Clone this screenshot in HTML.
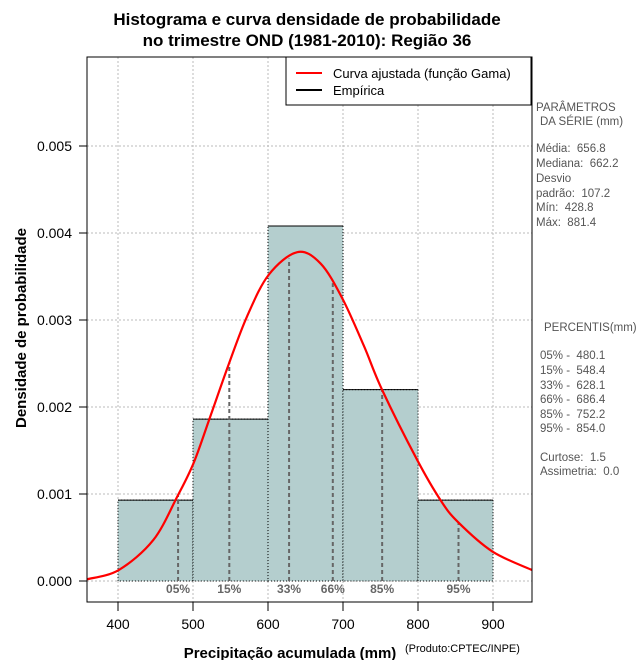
<!DOCTYPE html>
<html><head><meta charset="utf-8"><style>
body{margin:0;background:#fff}
svg text{font-family:"Liberation Sans",sans-serif;white-space:pre}
</style></head><body>
<svg id="svg" width="640" height="660" xmlns="http://www.w3.org/2000/svg">
<g id="grid"></g>
<g id="bars"></g>
<g id="pct"></g>
<path id="curve" fill="none" stroke="#f00" stroke-width="2.2"/>
<rect x="87" y="57" width="445" height="545" fill="none" stroke="#000"/>
<g id="axes"></g>
<text x="307" y="25" text-anchor="middle" font-size="17" font-weight="bold">Histograma e curva densidade de probabilidade</text>
<text x="307" y="46" text-anchor="middle" font-size="17" font-weight="bold">no trimestre OND (1981-2010): Região 36</text>
<text transform="translate(26,328) rotate(-90)" text-anchor="middle" font-size="15" font-weight="bold">Densidade de probabilidade</text>
<text x="290" y="658" text-anchor="middle" font-size="15" font-weight="bold">Precipitação acumulada (mm)</text>
<text x="405" y="652" font-size="11">(Produto:CPTEC/INPE)</text>
<g>
<rect x="286" y="57" width="245" height="48" fill="#fff" stroke="#000"/>
<line x1="296" y1="73" x2="322" y2="73" stroke="#f00" stroke-width="2"/>
<line x1="296" y1="90" x2="322" y2="90" stroke="#000" stroke-width="2"/>
<text x="333" y="78" font-size="13">Curva ajustada (função Gama)</text>
<text x="333" y="95" font-size="13">Empírica</text>
</g>
<g font-size="11.5" fill="#555">
<text x="536" y="111">PARÂMETROS</text><text x="540" y="125">DA SÉRIE (mm)</text>
<text x="536" y="152">Média:  656.8</text><text x="536" y="167">Mediana:  662.2</text>
<text x="536" y="182">Desvio</text><text x="536" y="197">padrão:  107.2</text>
<text x="536" y="211">Mín:  428.8</text><text x="536" y="226">Máx:  881.4</text>
<text x="544" y="331">PERCENTIS(mm)</text>
<text x="540" y="359">05% -  480.1</text><text x="540" y="374">15% -  548.4</text>
<text x="540" y="389">33% -  628.1</text><text x="540" y="403">66% -  686.4</text>
<text x="540" y="418">85% -  752.2</text><text x="540" y="432">95% -  854.0</text>
<text x="540" y="461">Curtose:  1.5</text><text x="540" y="475">Assimetria:  0.0</text>
</g>
</svg>
<script>
var xTicks=[400,500,600,700,800,900];
var yTicks=[0,0.001,0.002,0.003,0.004,0.005];
var yTickLabels=["0.000","0.001","0.002","0.003","0.004","0.005"];
var binStarts=[400,500,600,700,800];
var binDensity=[0.00093,0.00186,0.00408,0.0022,0.00093];
var curveX=[359,401,447,479,501,523,548,572,601,639,670,699,728,752,799,830,853,899,952];
var curveY=[0.00002,0.000126,0.00047,0.00097,0.00136,0.00189,0.0025,0.00304,0.00352,0.00378,0.00365,0.00325,0.0027,0.0022,0.00139,0.00093,0.00068,0.00034,0.000126];
var pctLabels=["05%","15%","33%","66%","85%","95%"];
var pctValues=[480.1,548.4,628.1,686.4,752.2,854.0];
function X(v){return 118+(v-400)*0.75;}
function Y(v){return 581-v*87000;}
var NS="http://www.w3.org/2000/svg";
function mk(p,t,a){var e=document.createElementNS(NS,t);for(var k in a)e.setAttribute(k,a[k]);p.appendChild(e);return e;}
var gg=document.getElementById('grid');
xTicks.forEach(function(v){var l=mk(gg,'line',{x1:X(v),x2:X(v),y1:57,y2:602,stroke:'#bbb','stroke-dasharray':'2,2'});

});
yTicks.forEach(function(v){var l=mk(gg,'line',{x1:87,x2:532,y1:Y(v),y2:Y(v),stroke:'#bbb','stroke-dasharray':'2,2'});

});
var bb=document.getElementById('bars');
binStarts.forEach(function(s,i){var r=mk(bb,'rect',{x:X(s),y:Y(binDensity[i]),width:X(s+100)-X(s),height:Y(0)-Y(binDensity[i]),fill:'#b4cece',stroke:'#000','stroke-dasharray':'1,2','stroke-width':1});


var t=mk(bb,'line',{x1:X(s),x2:X(s+100),y1:Y(binDensity[i]),y2:Y(binDensity[i]),stroke:'#000'});

});
function interp(x){for(var i=0;i<curveX.length-1;i++)if(x<=curveX[i+1]){var f=(x-curveX[i])/(curveX[i+1]-curveX[i]);return curveY[i]+f*(curveY[i+1]-curveY[i]);}return curveY[curveY.length-1];}
var pp=document.getElementById('pct');
pctValues.forEach(function(v,i){var l=mk(pp,'line',{x1:X(v),x2:X(v),y1:Y(0),y2:Y(interp(v)),stroke:'#666','stroke-width':2,'stroke-dasharray':'4,3'});


var t=mk(pp,'text',{x:X(v),y:593,'text-anchor':'middle','font-size':12,'font-weight':'bold',fill:'#666'});t.textContent=pctLabels[i];

});
// smooth Catmull-Rom path through sampled points
var P=curveX.map(function(x,i){return [X(x),Y(curveY[i])];});
var d='M'+P[0][0]+','+P[0][1];
for(var i=0;i<P.length-1;i++){var p0=P[Math.max(0,i-1)],p1=P[i],p2=P[i+1],p3=P[Math.min(P.length-1,i+2)];
d+='C'+(p1[0]+(p2[0]-p0[0])/6)+','+(p1[1]+(p2[1]-p0[1])/6)+' '+(p2[0]-(p3[0]-p1[0])/6)+','+(p2[1]-(p3[1]-p1[1])/6)+' '+p2[0]+','+p2[1];}
document.getElementById('curve').setAttribute('d',d);
var aa=document.getElementById('axes');
xTicks.forEach(function(v){mk(aa,'line',{x1:X(v),x2:X(v),y1:602,y2:611,stroke:'#000'});var t=mk(aa,'text',{x:X(v),y:629,'text-anchor':'middle','font-size':14});t.textContent=v;

});
yTicks.forEach(function(v,i){mk(aa,'line',{x1:79,x2:87,y1:Y(v),y2:Y(v),stroke:'#000'});var t=mk(aa,'text',{x:72,y:Y(v)+5,'text-anchor':'end','font-size':14});t.textContent=yTickLabels[i];

});
</script>
</body></html>
